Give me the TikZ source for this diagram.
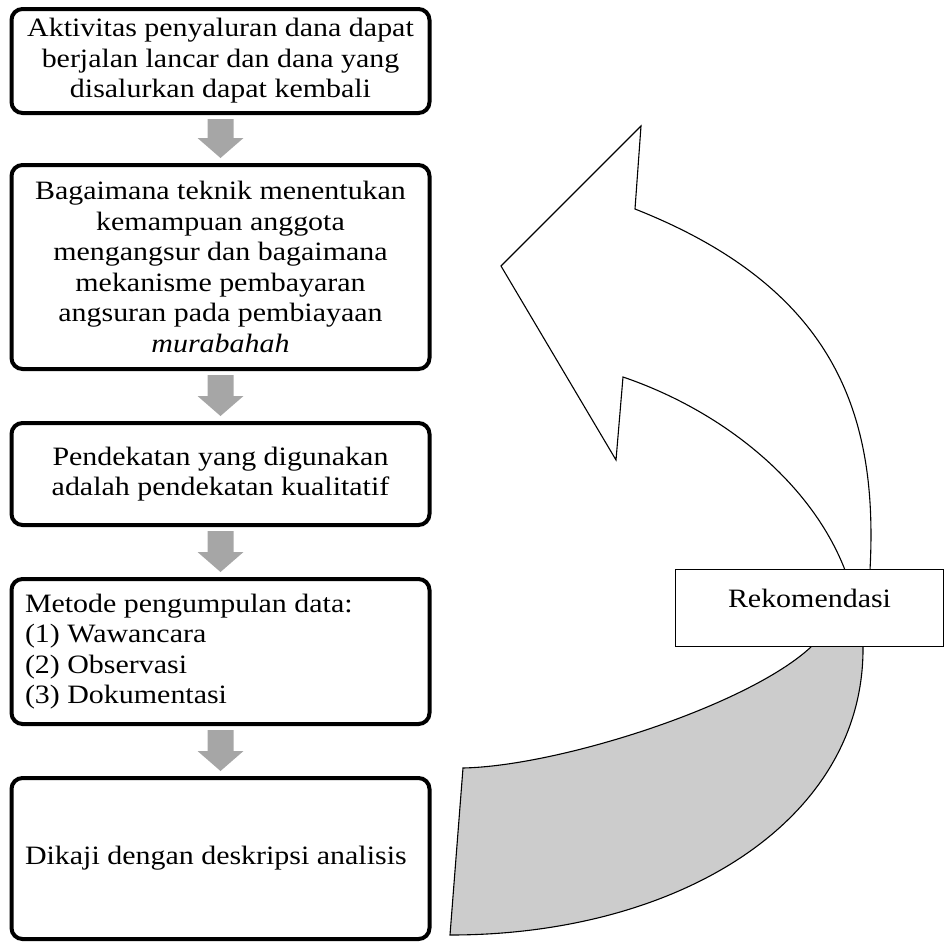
\documentclass[tikz,border=0pt]{standalone}
\usepackage{fontspec}
\setmainfont{Liberation Serif}[FakeStretch=1.13]
\usetikzlibrary{calc}
\definecolor{arrowgray}{HTML}{A6A6A6}
\definecolor{bandgray}{HTML}{CCCCCC}
\newcommand\flowarrow[2]{%
  \fill[arrowgray] ($(#1.south)+(-13,4)$) -- ($(#1.south)+(13,4)$)
    -- ($(#2.north)+(13,-25)$) -- ($(#2.north)+(23,-25)$)
    -- ($(#2.north)+(0,-5)$)
    -- ($(#2.north)+(-23,-25)$) -- ($(#2.north)+(-13,-25)$) -- cycle;}
\begin{document}
\begin{tikzpicture}[x=1pt,y=-1pt,
  txt/.style={font=\fontsize{26.5}{30.5}\selectfont},
  flowbox/.style={txt, draw=black, line width=4pt, rounded corners=11pt, fill=white,
    minimum width=418pt, inner sep=0pt, align=center},
  leftbox/.style={align=flush left, text width=391pt, inner xsep=13.5pt},
  shapeline/.style={draw=black, line width=1.1pt, line join=miter},
  recbox/.style={txt, draw=black, line width=1.1pt, fill=white, minimum width=268pt,
    minimum height=77pt, inner sep=0pt, text depth=20pt}]
\useasboundingbox (0,0) rectangle (945,943);

\node[flowbox, minimum height=104pt] (b1) at (220.5,61)
  {Aktivitas penyaluran dana dapat\\berjalan lancar dan dana yang\\disalurkan dapat kembali};
\node[flowbox, minimum height=204pt] (b2) at (220.5,267)
  {Bagaimana teknik menentukan\\kemampuan anggota\\mengangsur dan bagaimana\\mekanisme pembayaran\\angsuran pada pembiayaan\\\textit{murabahah}};
\node[flowbox, minimum height=102pt] (b3) at (220.5,474)
  {Pendekatan yang digunakan\\adalah pendekatan kualitatif};
\node[flowbox, leftbox, minimum height=145pt] (b4) at (220.5,651.5)
  {Metode pengumpulan data:\\(1) Wawancara\\(2) Observasi\\(3) Dokumentasi};
\node[flowbox, leftbox, minimum height=161pt] (b5) at (220.5,858.5)
  {Dikaji dengan deskripsi analisis};

\flowarrow{b1}{b2}
\flowarrow{b2}{b3}
\flowarrow{b3}{b4}
\flowarrow{b4}{b5}

% white curved arrow (upper part)
\path[shapeline, fill=white] (845,570) .. controls (810,480) and (720,410) .. (623,377)
  -- (616,460) -- (501,266) -- (641,126) -- (635,209)
  .. controls (840,290) and (878,420) .. (870,570) -- cycle;
% gray curved band (lower part)
\path[shapeline, fill=bandgray] (812,646) .. controls (750,705) and (560,766) .. (463,768)
  -- (450,935) .. controls (680,935) and (865,820) .. (863,646) -- cycle;

\node[recbox] (rek) at (809.5,608) {Rekomendasi};
\end{tikzpicture}
\end{document}
